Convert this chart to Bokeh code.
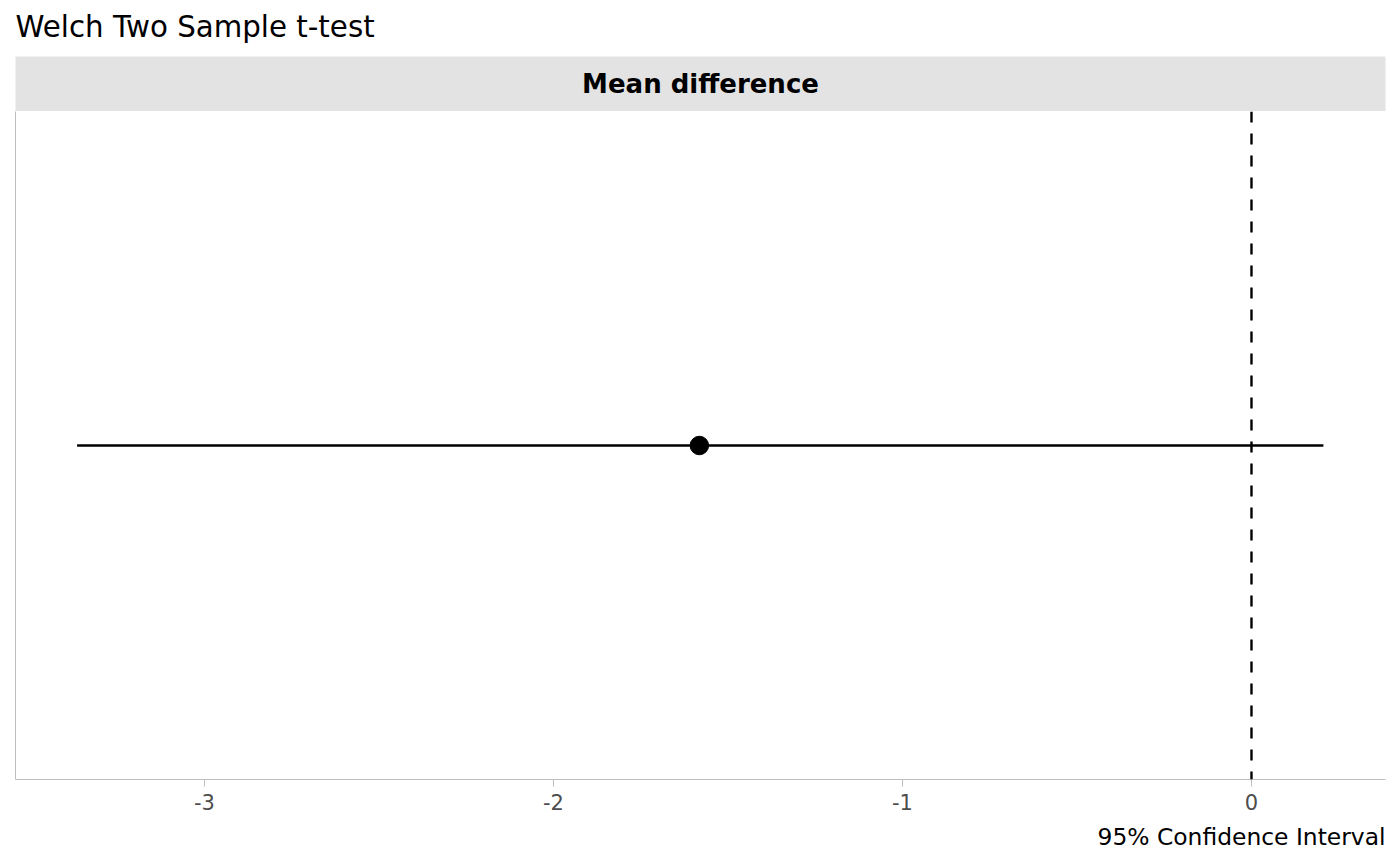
from bokeh.plotting import figure
from bokeh.models import Range1d, FixedTicker, Span, Label, Title, ColumnDataSource
from bokeh.layouts import column
from bokeh.embed import file_html
from bokeh.resources import INLINE

# ---- data ----
title_text = "Welch Two Sample t-test"
facet_label = "Mean difference"
x_label = "95% Confidence Interval"
row_pos = [1]
estimate = [-1.582]
conf_low = [-3.365]
conf_high = [0.206]
ref_value = 0
tick_values = [-3, -2, -1, 0]
tick_labels = ["-3", "-2", "-1", "0"]
x_lim = (-3.5415, 0.384)

FONT = "DejaVu Sans"
W = 1400


def blank(height, fill):
    f = figure(width=W, height=height, x_range=Range1d(0, 1), y_range=Range1d(0, 1),
               x_axis_type=None, y_axis_type=None, toolbar_location=None,
               output_backend="svg", min_border_left=15, min_border_right=15,
               min_border_top=0, min_border_bottom=0)
    f.background_fill_color = fill
    f.border_fill_color = "white"
    f.outline_line_color = None
    f.grid.visible = False
    return f


# ---- title figure ----
head = blank(56, "white")
head.add_layout(Label(x=0, y=30, x_units="data", y_units="screen", text=title_text,
                      text_align="left", text_baseline="middle", text_font=FONT,
                      text_font_size="29.3px", text_color="black"))

# ---- strip figure ----
strip = blank(55, "#e3e3e3")
strip.add_layout(Label(x=0.5, y=0.5, text=facet_label, text_align="center",
                       text_baseline="middle", text_font=FONT, text_font_size="26px",
                       text_font_style="bold", text_color="black"))

# ---- main figure ----
p = figure(width=W, height=755, x_range=Range1d(*x_lim), y_range=Range1d(0.4, 1.6),
           toolbar_location=None, output_backend="svg",
           min_border_left=15, min_border_right=15, min_border_top=0, min_border_bottom=87)
p.background_fill_color = "white"
p.border_fill_color = "white"
p.outline_line_color = None
p.grid.visible = False

xa = p.xaxis[0]
xa.ticker = FixedTicker(ticks=tick_values, minor_ticks=[])
xa.major_label_overrides = {v: l for v, l in zip(tick_values, tick_labels)}
xa.axis_line_color = "#bebebe"
xa.axis_line_width = 1
xa.major_tick_line_color = "#bebebe"
xa.major_tick_out = 7
xa.major_tick_in = 0
xa.minor_tick_line_color = None
xa.major_label_text_font = FONT
xa.major_label_text_font_size = "21px"
xa.major_label_text_color = "#4d4d4d"
xa.major_label_standoff = 7

ya = p.yaxis[0]
ya.ticker = FixedTicker(ticks=[], minor_ticks=[])
ya.axis_line_color = "#bebebe"
ya.axis_line_width = 1
ya.major_tick_line_color = None
ya.minor_tick_line_color = None
ya.major_label_text_font_size = "0px"

p.add_layout(Title(text=x_label, align="right", text_font=FONT, text_font_size="23.4px",
                   text_font_style="normal", text_color="black", standoff=16), "below")

p.add_layout(Span(location=ref_value, dimension="height", line_color="black",
                  line_width=2.4, line_dash="11 11"))

src = ColumnDataSource(dict(y=row_pos, est=estimate, lo=conf_low, hi=conf_high))
p.segment(x0="lo", x1="hi", y0="y", y1="y", source=src, line_color="black", line_width=2.6)
p.scatter(x="est", y="y", source=src, size=18.5, fill_color="black", line_color="black")

layout = column(head, strip, p, spacing=0)
open("out.html", "w").write(file_html(layout, INLINE))
